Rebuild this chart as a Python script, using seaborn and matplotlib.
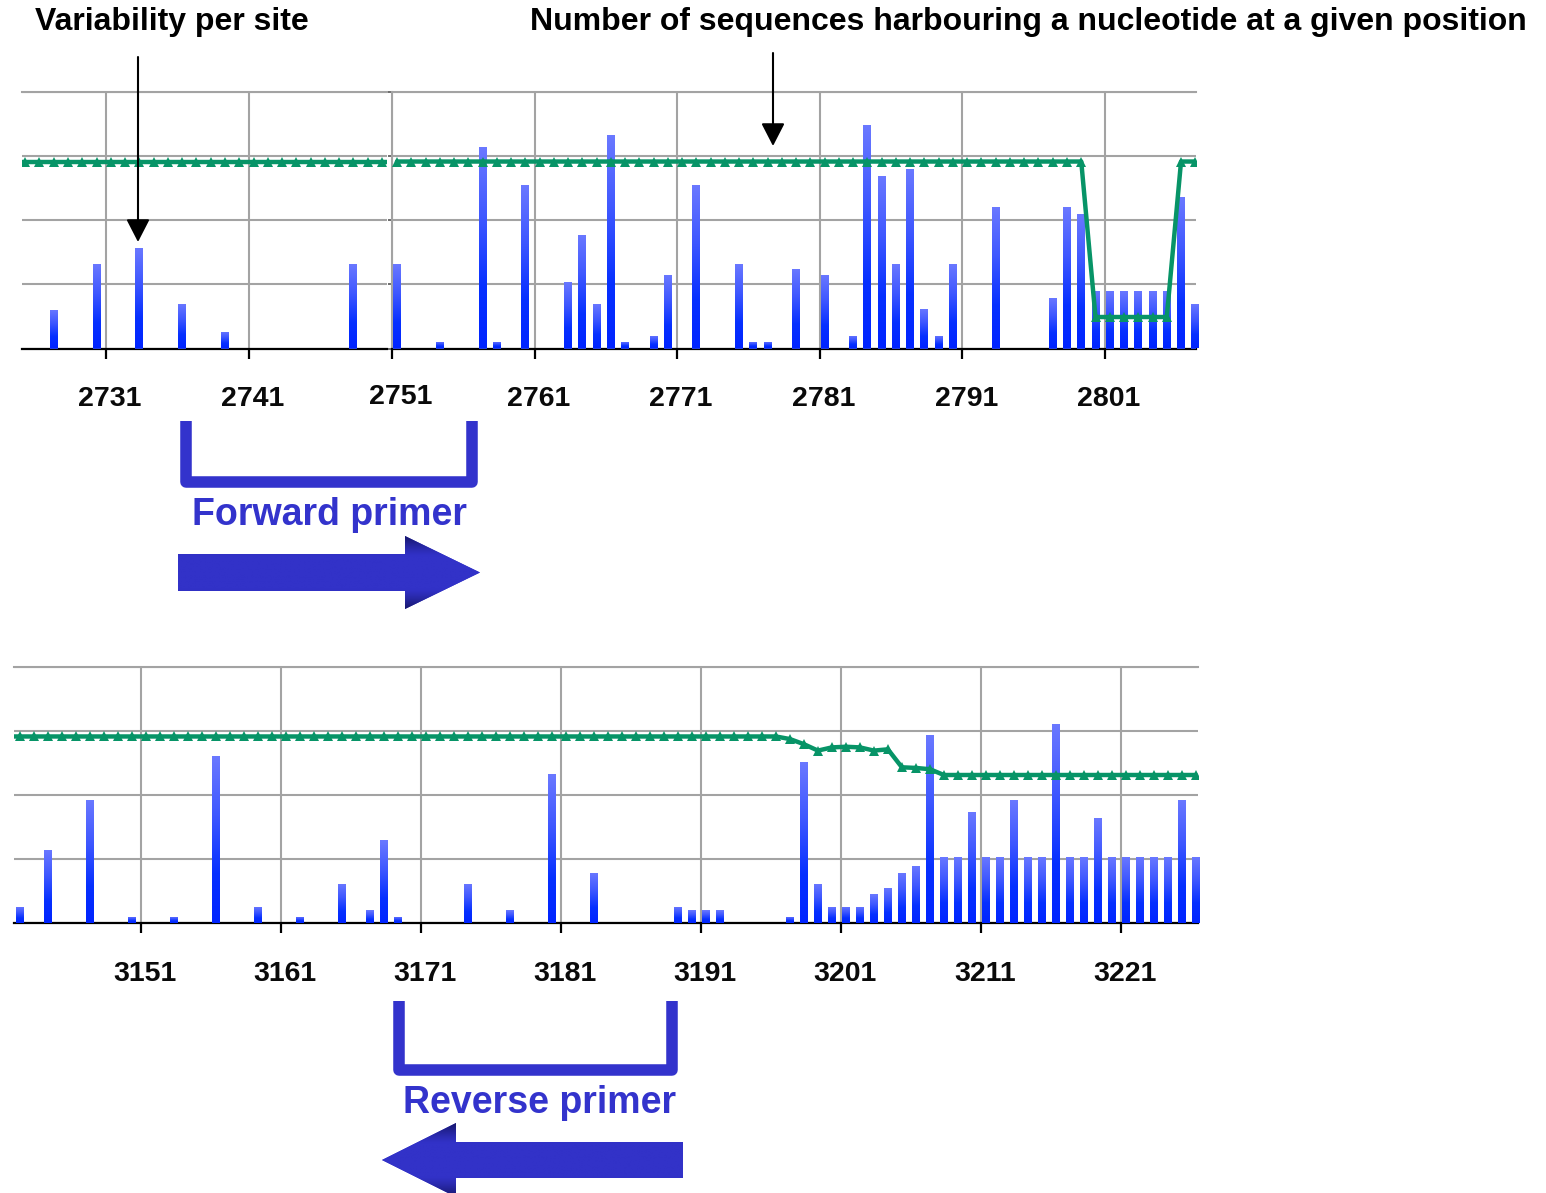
import numpy as np
import pandas as pd
import matplotlib
matplotlib.use("Agg")
import matplotlib.pyplot as plt
from matplotlib.colors import LinearSegmentedColormap, to_rgb
from matplotlib.patches import Polygon
from matplotlib.transforms import ScaledTranslation
import seaborn as sns

# ---------------------------------------------------------------- data
# Forward-primer region, first window (sites 2724-2751)
fwd_a_sites = [2724, 2725, 2726, 2727, 2728, 2729, 2730, 2731, 2732, 2733,
               2734, 2735, 2736, 2737, 2738, 2739, 2740, 2741, 2742, 2743,
               2744, 2745, 2746, 2747, 2748, 2749, 2750, 2751]
fwd_a_var_sites = [2727, 2730, 2733, 2736, 2739, 2748]
fwd_a_var = [0.60, 1.31, 1.56, 0.69, 0.25, 1.31]
fwd_a_cov = [2.91, 2.91, 2.91, 2.91, 2.91, 2.91, 2.91, 2.91, 2.91, 2.91,
             2.91, 2.91, 2.91, 2.91, 2.91, 2.91, 2.91, 2.91, 2.91, 2.91,
             2.91, 2.91, 2.91, 2.91, 2.91, 2.91, 2.91, 2.91]
fwd_a_ticks = [2731, 2741]

# Forward-primer region, second window (sites 2751-2807)
fwd_b_sites = [2751, 2752, 2753, 2754, 2755, 2756, 2757, 2758, 2759, 2760,
               2761, 2762, 2763, 2764, 2765, 2766, 2767, 2768, 2769, 2770,
               2771, 2772, 2773, 2774, 2775, 2776, 2777, 2778, 2779, 2780,
               2781, 2782, 2783, 2784, 2785, 2786, 2787, 2788, 2789, 2790,
               2791, 2792, 2793, 2794, 2795, 2796, 2797, 2798, 2799, 2800,
               2801, 2802, 2803, 2804, 2805, 2806, 2807]
fwd_b_var_sites = [2751, 2754, 2757, 2758, 2760, 2763, 2764, 2765, 2766, 2767,
                   2769, 2770, 2772, 2775, 2776, 2777, 2779, 2781, 2783, 2784,
                   2785, 2786, 2787, 2788, 2789, 2790, 2793, 2797, 2798, 2799,
                   2800, 2801, 2802, 2803, 2804, 2805, 2806, 2807]
fwd_b_var = [1.32, 0.10, 3.13, 0.10, 2.54, 1.04, 1.76, 0.70, 3.32, 0.10,
             0.20, 1.14, 2.54, 1.32, 0.10, 0.10, 1.23, 1.14, 0.20, 3.48,
             2.69, 1.32, 2.79, 0.61, 0.20, 1.32, 2.20, 0.79, 2.20, 2.10,
             0.89, 0.89, 0.89, 0.89, 0.89, 0.89, 2.36, 0.70]
fwd_b_cov = [2.91, 2.91, 2.91, 2.91, 2.91, 2.91, 2.91, 2.91, 2.91, 2.91,
             2.91, 2.91, 2.91, 2.91, 2.91, 2.91, 2.91, 2.91, 2.91, 2.91,
             2.91, 2.91, 2.91, 2.91, 2.91, 2.91, 2.91, 2.91, 2.91, 2.91,
             2.91, 2.91, 2.91, 2.91, 2.91, 2.91, 2.91, 2.91, 2.91, 2.91,
             2.91, 2.91, 2.91, 2.91, 2.91, 2.91, 2.91, 2.91, 2.91, 0.49,
             0.49, 0.49, 0.49, 0.49, 0.49, 2.91, 2.91]
fwd_b_ticks = [2751, 2761, 2771, 2781, 2791, 2801]

# Reverse-primer region (sites 3141-3226)
rev_sites = [3141, 3142, 3143, 3144, 3145, 3146, 3147, 3148, 3149, 3150,
             3151, 3152, 3153, 3154, 3155, 3156, 3157, 3158, 3159, 3160,
             3161, 3162, 3163, 3164, 3165, 3166, 3167, 3168, 3169, 3170,
             3171, 3172, 3173, 3174, 3175, 3176, 3177, 3178, 3179, 3180,
             3181, 3182, 3183, 3184, 3185, 3186, 3187, 3188, 3189, 3190,
             3191, 3192, 3193, 3194, 3195, 3196, 3197, 3198, 3199, 3200,
             3201, 3202, 3203, 3204, 3205, 3206, 3207, 3208, 3209, 3210,
             3211, 3212, 3213, 3214, 3215, 3216, 3217, 3218, 3219, 3220,
             3221, 3222, 3223, 3224, 3225, 3226]
rev_var_sites = [3142, 3144, 3147, 3150, 3153, 3156, 3159, 3162, 3165, 3167,
                 3168, 3169, 3174, 3177, 3180, 3183, 3189, 3190, 3191, 3192,
                 3197, 3198, 3199, 3200, 3201, 3202, 3203, 3204, 3205, 3206,
                 3207, 3208, 3209, 3210, 3211, 3212, 3213, 3214, 3215, 3216,
                 3217, 3218, 3219, 3220, 3221, 3222, 3223, 3224, 3225, 3226]
rev_var = [0.26, 1.14, 1.92, 0.10, 0.10, 2.60, 0.26, 0.10, 0.61, 0.20,
           1.29, 0.10, 0.61, 0.20, 2.32, 0.79, 0.26, 0.20, 0.20, 0.20,
           0.10, 2.51, 0.61, 0.26, 0.26, 0.26, 0.45, 0.55, 0.79, 0.89,
           2.94, 1.04, 1.04, 1.73, 1.04, 1.04, 1.92, 1.04, 1.04, 3.10,
           1.04, 1.04, 1.64, 1.04, 1.04, 1.04, 1.04, 1.04, 1.92, 1.04]
rev_cov = [2.91, 2.91, 2.91, 2.91, 2.91, 2.91, 2.91, 2.91, 2.91, 2.91,
           2.91, 2.91, 2.91, 2.91, 2.91, 2.91, 2.91, 2.91, 2.91, 2.91,
           2.91, 2.91, 2.91, 2.91, 2.91, 2.91, 2.91, 2.91, 2.91, 2.91,
           2.91, 2.91, 2.91, 2.91, 2.91, 2.91, 2.91, 2.91, 2.91, 2.91,
           2.91, 2.91, 2.91, 2.91, 2.91, 2.91, 2.91, 2.91, 2.91, 2.91,
           2.91, 2.91, 2.91, 2.91, 2.91, 2.91, 2.87, 2.79, 2.69, 2.74,
           2.75, 2.74, 2.69, 2.71, 2.43, 2.42, 2.40, 2.31, 2.31, 2.31,
           2.31, 2.31, 2.31, 2.31, 2.31, 2.31, 2.31, 2.31, 2.31, 2.31,
           2.31, 2.31, 2.31, 2.31, 2.31, 2.31]
rev_ticks = [3151, 3161, 3171, 3181, 3191, 3201, 3211, 3221]

# ---------------------------------------------------------------- style
W, H, DPI = 1546, 1193, 100
CELL_OFFSET = 0.35          # bar / marker position inside each site cell
BAR_WIDTH = 0.56
GREEN = "#079467"
GRID = "#a3a3a3"
PRIMER_BLUE = "#3333cc"
BAR_CMAP = LinearSegmentedColormap.from_list(
    "bars", [(0.0, "#0024ff"), (0.3, "#0630ff"), (0.65, "#3f58ff"), (1.0, "#6b79ff")])
GRAD = np.linspace(0, 1, 256).reshape(-1, 1)

sns.set_theme(style="white")
plt.rcParams["font.family"] = ["Liberation Sans", "DejaVu Sans"]
TICK_FONT = ["Liberation Sans Narrow", "Liberation Sans", "DejaVu Sans"]

fig = plt.figure(figsize=(W / DPI, H / DPI), dpi=DPI)


def px_axes(left, top, right, bottom):
    return fig.add_axes([left / W, 1 - bottom / H, (right - left) / W, (bottom - top) / H])


def draw_window(ax, sites, var_sites, var_vals, cov_vals, xlim, ticks,
                left_spine=False, label_shift=None):
    lookup = dict(zip(var_sites, var_vals))
    frame = pd.DataFrame({"site": sites})
    frame["variability"] = [lookup.get(s, 0.0) for s in sites]
    frame["pos"] = frame["site"] + CELL_OFFSET
    frame["coverage"] = cov_vals

    sns.barplot(data=frame, x="pos", y="variability", native_scale=True,
                width=BAR_WIDTH, color="#0024ff", errorbar=None, ax=ax,
                zorder=3, linewidth=0)
    # vertical light-to-dark fill on every bar
    for patch in list(ax.patches):
        h = patch.get_height()
        if h <= 0:
            continue
        x0 = patch.get_x()
        im = ax.imshow(GRAD, extent=[x0, x0 + patch.get_width(), 0, h],
                       origin="lower", aspect="auto", cmap=BAR_CMAP,
                       interpolation="bilinear", zorder=3.1)
        im.set_clip_path(patch)

    sns.lineplot(data=frame, x="pos", y="coverage", ax=ax, color=GREEN,
                 lw=3.2, marker="^", markersize=7, markeredgewidth=0,
                 zorder=4)

    ax.set_aspect("auto")
    ax.set_xlim(*xlim)
    ax.set_ylim(0, 4)
    ax.set_xlabel("")
    ax.set_ylabel("")
    ax.set_xticks(ticks)
    ax.set_xticklabels([str(t) for t in ticks], fontfamily=TICK_FONT,
                       fontweight="bold", fontsize=20.5, color="#0a0a0a")
    ax.set_yticks([0, 1, 2, 3, 4])
    ax.set_yticklabels([])
    ax.tick_params(axis="x", direction="out", length=7, width=1.6,
                   color="black", pad=20, bottom=True)
    ax.tick_params(axis="y", length=3 if left_spine else 0, width=1.2,
                   color="#555555", left=left_spine)
    ax.grid(True, color=GRID, lw=1.5)
    ax.set_axisbelow(True)
    ax.spines["right"].set_visible(False)
    ax.spines["top"].set_visible(True)
    ax.spines["top"].set_color(GRID)
    ax.spines["top"].set_linewidth(1.5)
    ax.spines["left"].set_visible(left_spine)
    ax.spines["left"].set_color(GRID)
    ax.spines["left"].set_linewidth(1.5)
    ax.spines["bottom"].set_color("black")
    ax.spines["bottom"].set_linewidth(1.6)
    ax.patch.set_alpha(0)

    shift = label_shift or {}
    for tick, lbl in zip(ticks, ax.get_xticklabels()):
        dx, dy = shift.get(tick, (4, 0))
        lbl.set_transform(lbl.get_transform() +
                          ScaledTranslation(dx / DPI, dy / DPI, fig.dpi_scale_trans))


ax_a = px_axes(22, 91.5, 387, 348.5)
draw_window(ax_a, fwd_a_sites, fwd_a_var_sites, fwd_a_var, fwd_a_cov,
            (2725.13, 2750.7), fwd_a_ticks)

ax_b = px_axes(392, 91.5, 1196, 348.5)
draw_window(ax_b, fwd_b_sites, fwd_b_var_sites, fwd_b_var, fwd_b_cov,
            (2751.0, 2807.4), fwd_b_ticks, left_spine=True,
            label_shift={2751: (9, 2)})

ax_c = px_axes(14, 666.5, 1198, 923.3)
draw_window(ax_c, rev_sites, rev_var_sites, rev_var, rev_cov,
            (3141.93, 3226.5), rev_ticks)

# ---------------------------------------------------------------- annotations
ov = fig.add_axes([0, 0, 1, 1], zorder=10)
ov.set_xlim(0, W)
ov.set_ylim(H, 0)
ov.axis("off")
ov.patch.set_alpha(0)

ov.text(35, 22, "Variability per site", fontsize=23, fontweight="bold",
        color="black", ha="left", va="center")
ov.text(530, 22, "Number of sequences harbouring a nucleotide at a given position",
        fontsize=23, fontweight="bold", color="black", ha="left", va="center")

arrow_style = "-|>,head_length=0.7,head_width=0.36"
for x, y0, y1 in [(138, 57, 242), (773, 53, 146)]:
    ov.annotate("", xy=(x, y1), xytext=(x, y0),
                arrowprops=dict(arrowstyle=arrow_style, mutation_scale=20,
                                lw=1.5, color="black", shrinkA=0, shrinkB=0))

# primer brackets
ov.plot([186, 186, 472, 472], [421, 481.5, 481.5, 421], color=PRIMER_BLUE,
        lw=8.3, solid_joinstyle="round", solid_capstyle="butt")
ov.plot([398.5, 398.5, 671.5, 671.5], [1001, 1070, 1070, 1001], color=PRIMER_BLUE,
        lw=8.3, solid_joinstyle="round", solid_capstyle="butt")

ov.text(329, 525, "Forward primer", fontsize=27, fontweight="bold",
        color=PRIMER_BLUE, ha="center", va="baseline")
ov.text(539.5, 1113, "Reverse primer", fontsize=27, fontweight="bold",
        color=PRIMER_BLUE, ha="center", va="baseline")

# shaded block arrows
mid = np.array(to_rgb("#3232c8"))
edge = np.array(to_rgb("#16166a"))


def shaded_arrow(points):
    poly = Polygon(points, closed=True, facecolor="#3232c8", edgecolor="none")
    ov.add_patch(poly)
    xs = [p[0] for p in points]
    ys = [p[1] for p in points]
    t = np.abs(np.linspace(-1, 1, 200))
    w = np.clip((t - 0.45) / 0.55, 0, 1) ** 1.3
    img = (mid[None, :] * (1 - w[:, None]) + edge[None, :] * w[:, None])[:, None, :]
    im = ov.imshow(img, extent=[min(xs), max(xs), max(ys), min(ys)],
                   aspect="auto", interpolation="bilinear", zorder=2)
    im.set_clip_path(poly)


shaded_arrow([(178, 554), (405, 554), (405, 536), (480, 572.5),
              (405, 609), (405, 591), (178, 591)])
shaded_arrow([(683, 1142), (456, 1142), (456, 1123), (382, 1160),
              (456, 1197), (456, 1178), (683, 1178)])
ov.set_xlim(0, W)
ov.set_ylim(H, 0)

fig.savefig("out.png", dpi=DPI)
